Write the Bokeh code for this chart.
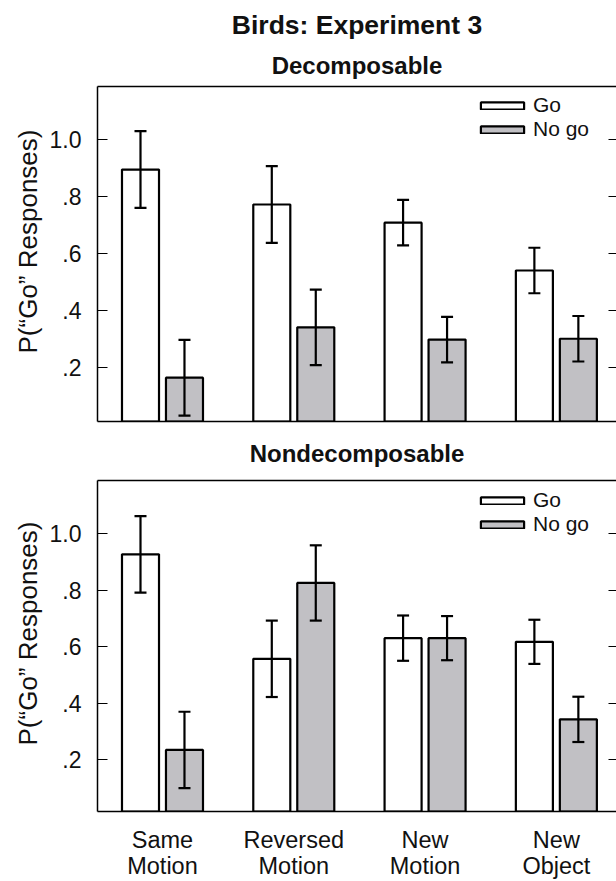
from bokeh.plotting import figure
from bokeh.models import (ColumnDataSource, FixedTicker, LinearAxis, Range1d, Title,
                          Whisker, TeeHead, Legend, LegendItem)
from bokeh.layouts import column
from bokeh.transform import dodge
from bokeh.embed import file_html
from bokeh.resources import INLINE

# ---------------- data ----------------
conditions = ["Same Motion", "Reversed Motion", "New Motion", "New Object"]
category_labels = ["Same\nMotion", "Reversed\nMotion", "New\nMotion", "New\nObject"]
y_ticks = [0.2, 0.4, 0.6, 0.8, 1.0]
y_tick_labels = [".2", ".4", ".6", ".8", "1.0"]

dec_go = [0.895, 0.772, 0.708, 0.540]
dec_go_err = [0.135, 0.135, 0.080, 0.080]
dec_nogo = [0.163, 0.340, 0.297, 0.300]
dec_nogo_err = [0.133, 0.133, 0.080, 0.080]

non_go = [0.926, 0.557, 0.630, 0.617]
non_go_err = [0.135, 0.135, 0.080, 0.078]
non_nogo = [0.235, 0.825, 0.630, 0.343]
non_nogo_err = [0.135, 0.133, 0.078, 0.080]

FONT = "Liberation Sans"
GRAY = "#c1c0c4"
INK = "#111111"
BAR_W = 0.282
OFF = 0.1675


def blank_axis(**kw):
    return LinearAxis(ticker=FixedTicker(ticks=[]), minor_tick_line_color=None,
                      major_tick_line_color=None, major_label_standoff=0,
                      major_label_text_font_size="1px", **kw)


def make_panel(go, go_err, nogo, nogo_err, height, y_start, top_border, bottom_border,
               legend_y, ylabel_offset, show_x_labels):
    src = ColumnDataSource(dict(
        x=list(range(len(conditions))),
        go=go,
        go_lo=[v - e for v, e in zip(go, go_err)],
        go_hi=[v + e for v, e in zip(go, go_err)],
        nogo=nogo,
        nogo_lo=[v - e for v, e in zip(nogo, nogo_err)],
        nogo_hi=[v + e for v, e in zip(nogo, nogo_err)],
    ))
    p = figure(width=616, height=height, output_backend="svg", toolbar_location=None,
               x_range=Range1d(-0.495, 3.458), y_range=Range1d(y_start, 1.187),
               x_axis_location=None, y_axis_location=None,
               min_border_left=97, min_border_right=0,
               min_border_top=top_border, min_border_bottom=bottom_border)
    p.outline_line_color = None
    p.grid.grid_line_color = None
    p.background_fill_color = "white"

    r_go = p.vbar(x=dodge("x", -OFF, range=p.x_range), top="go", bottom=0, width=BAR_W,
                  source=src, fill_color="white", line_color="black", line_width=2.2)
    r_ng = p.vbar(x=dodge("x", OFF, range=p.x_range), top="nogo", bottom=0, width=BAR_W,
                  source=src, fill_color=GRAY, line_color="black", line_width=2.2)

    for key, off in (("go", -OFF), ("nogo", OFF)):
        w = Whisker(source=src, base=dodge("x", off, range=p.x_range),
                    lower=key + "_lo", upper=key + "_hi",
                    line_color="black", line_width=2.2,
                    upper_head=TeeHead(size=12, line_width=2.2, line_color="black"),
                    lower_head=TeeHead(size=12, line_width=2.2, line_color="black"))
        w.level = "overlay"
        p.add_layout(w)

    # left y axis
    ya = LinearAxis(ticker=FixedTicker(ticks=y_ticks),
                    major_label_overrides={t: l for t, l in zip(y_ticks, y_tick_labels)},
                    major_tick_in=10, major_tick_out=0, minor_tick_line_color=None,
                    axis_line_width=1.5, major_tick_line_width=1.2,
                    major_label_text_font=FONT, major_label_text_font_size="23px",
                    major_label_text_color=INK, major_label_standoff=16)
    p.add_layout(ya, "left")
    p.add_layout(Title(text="P(\u201cGo\u201d Responses)", align="left", offset=ylabel_offset,
                       standoff=7, text_font=FONT, text_font_size="26px",
                       text_font_style="normal", text_color=INK), "left")

    # right ticks (inward, no line)
    ra = LinearAxis(ticker=FixedTicker(ticks=y_ticks), major_tick_in=8, major_tick_out=0,
                    axis_line_color=None, minor_tick_line_color=None,
                    major_label_overrides={t: "" for t in y_ticks},
                    major_label_text_font_size="1px", major_label_standoff=0,
                    major_tick_line_width=1.2)
    p.add_layout(ra, "right")

    # top border line
    p.add_layout(blank_axis(axis_line_width=1.5), "above")

    # bottom axis
    if show_x_labels:
        xa = LinearAxis(ticker=FixedTicker(ticks=list(range(len(conditions)))),
                        major_label_overrides={i: l for i, l in enumerate(category_labels)},
                        major_tick_line_color=None, minor_tick_line_color=None,
                        axis_line_width=1.5, major_label_text_font=FONT,
                        major_label_text_font_size="23.5px", major_label_text_color=INK,
                        major_label_standoff=9, major_label_text_line_height=1.0)
    else:
        xa = blank_axis(axis_line_width=1.5)
    p.add_layout(xa, "below")

    leg = Legend(items=[LegendItem(label="Go", renderers=[r_go]),
                        LegendItem(label="No go", renderers=[r_ng])],
                 location=(378, legend_y), glyph_width=54, glyph_height=9,
                 label_text_font=FONT, label_text_font_size="21px",
                 label_text_color=INK, label_height=20, label_standoff=4,
                 label_text_line_height=0.92,
                 spacing=0, padding=0, margin=0, border_line_color=None,
                 background_fill_alpha=0)
    p.add_layout(leg)
    return p


p1 = make_panel(dec_go, dec_go_err, dec_nogo, dec_nogo_err, height=423, y_start=0.009,
                top_border=86, bottom_border=2, legend_y=280, ylabel_offset=68,
                show_x_labels=False)
p1.add_layout(Title(text="Decomposable", align="center", standoff=16, text_font=FONT,
                    text_font_size="24px", text_font_style="bold", text_color=INK), "above")
p1.add_layout(Title(text="Birds: Experiment 3", align="center", standoff=4, text_font=FONT,
                    text_font_size="26.5px", text_font_style="bold", text_color=INK), "above")

p2 = make_panel(non_go, non_go_err, non_nogo, non_nogo_err, height=458, y_start=0.0175,
                top_border=57, bottom_border=68, legend_y=275, ylabel_offset=66,
                show_x_labels=True)
p2.add_layout(Title(text="Nondecomposable", align="center", standoff=28, text_font=FONT,
                    text_font_size="24px", text_font_style="bold", text_color=INK), "above")

layout = column(p1, p2, spacing=0)
open("out.html", "w").write(file_html(layout, INLINE))
